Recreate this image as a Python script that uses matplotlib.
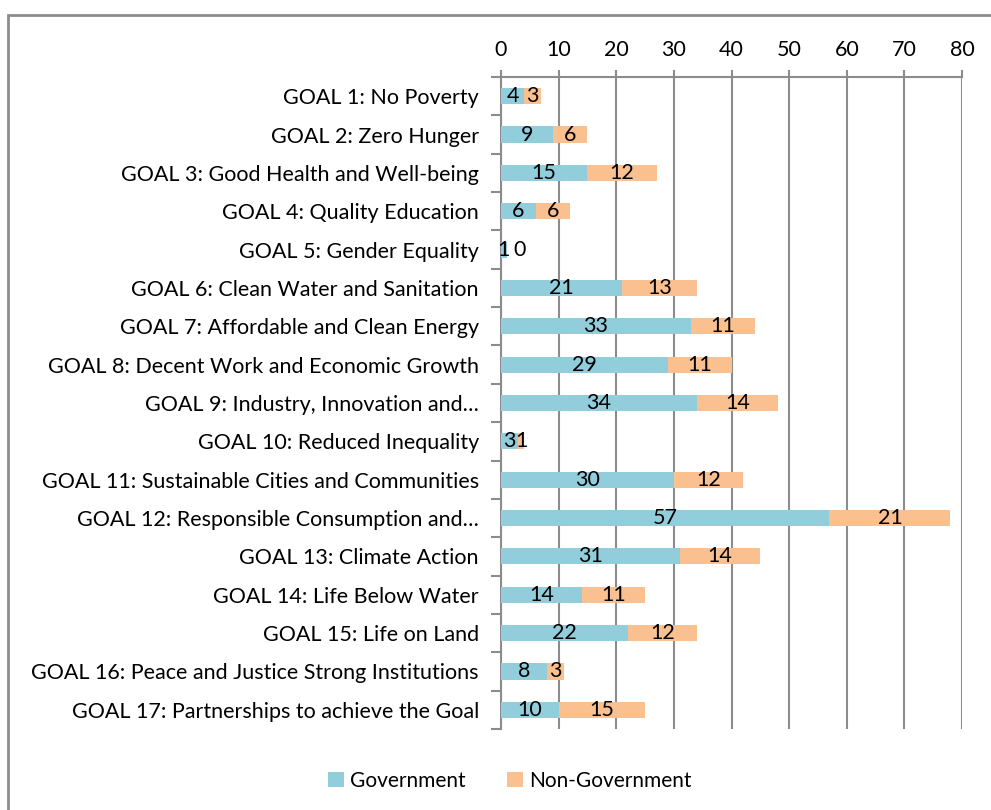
import numpy as np
import matplotlib.pyplot as plt
from matplotlib.patches import Rectangle

plt.rcParams['font.family'] = ['Lato', 'DejaVu Sans']

goals = ['GOAL 1: No Poverty', 'GOAL 2: Zero Hunger',
         'GOAL 3: Good Health and Well-being', 'GOAL 4: Quality Education',
         'GOAL 5: Gender Equality', 'GOAL 6: Clean Water and Sanitation',
         'GOAL 7: Affordable and Clean Energy',
         'GOAL 8: Decent Work and Economic Growth',
         'GOAL 9: Industry, Innovation and\u2026',
         'GOAL 10: Reduced Inequality',
         'GOAL 11: Sustainable Cities and Communities',
         'GOAL 12: Responsible Consumption and\u2026',
         'GOAL 13: Climate Action', 'GOAL 14: Life Below Water',
         'GOAL 15: Life on Land',
         'GOAL 16: Peace and Justice Strong Institutions',
         'GOAL 17: Partnerships to achieve the Goal']
government = [4, 9, 15, 6, 1, 21, 33, 29, 34, 3, 30, 57, 31, 14, 22, 8, 10]
non_government = [3, 6, 12, 6, 0, 13, 11, 11, 14, 1, 12, 21, 14, 11, 12, 3, 15]

gov_color = '#92CDDC'
non_color = '#FAC090'
grid_color = '#8C8C8C'

fig = plt.figure(figsize=(9.91, 8.10), dpi=100)
ax = fig.add_axes([501/991, 1 - 729/810, (962 - 501)/991, (729 - 77)/810])

y = np.arange(len(goals))
gov = np.array(government)
non = np.array(non_government)
ax.barh(y, gov, height=0.42, color=gov_color, label='Government', zorder=3)
ax.barh(y, non, left=gov, height=0.42, color=non_color, label='Non-Government', zorder=3)

fs = 15.5
for i in range(len(goals)):
    ax.text(gov[i] / 2, i, str(gov[i]), ha='center', va='center', fontsize=fs, zorder=4)
    if non[i] == 0:
        ax.text(gov[i] + 1.2, i, str(non[i]), ha='left', va='center', fontsize=fs, zorder=4)
    else:
        ax.text(gov[i] + non[i] / 2, i, str(non[i]), ha='center', va='center', fontsize=fs, zorder=4)

ax.set_xlim(0, 80)
ax.set_ylim(len(goals) - 0.5, -0.5)
ax.set_xticks(range(0, 81, 10))
ax.xaxis.tick_top()
ax.tick_params(axis='x', top=True, bottom=False, length=5, width=1.5, color=grid_color,
               labelsize=fs, pad=7)
ax.set_yticks(y)
ax.set_yticklabels(goals)
ax.set_yticks(np.arange(-0.5, len(goals)), minor=True)
ax.tick_params(axis='y', which='major', length=0, labelsize=fs, pad=16)
ax.tick_params(axis='y', which='minor', length=7, width=1.5, color=grid_color)
ax.grid(axis='x', color=grid_color, linewidth=1.5, zorder=0)
for s in ['right', 'bottom']:
    ax.spines[s].set_visible(False)
for s in ['top', 'left']:
    ax.spines[s].set_color(grid_color)
    ax.spines[s].set_linewidth(1.5)

fig.legend(loc='center', bbox_to_anchor=(510/991, 1 - 781/810), ncol=2, frameon=False,
           fontsize=15, handlelength=0.75, handleheight=0.75, handletextpad=0.3,
           columnspacing=2.0)

fig.patches.append(Rectangle((8/991, -0.05), 1.1, 1 - 15/810 + 0.05, transform=fig.transFigure,
                             fill=False, edgecolor='#8C8C8C', linewidth=2))

fig.savefig('out.png', dpi=100)
